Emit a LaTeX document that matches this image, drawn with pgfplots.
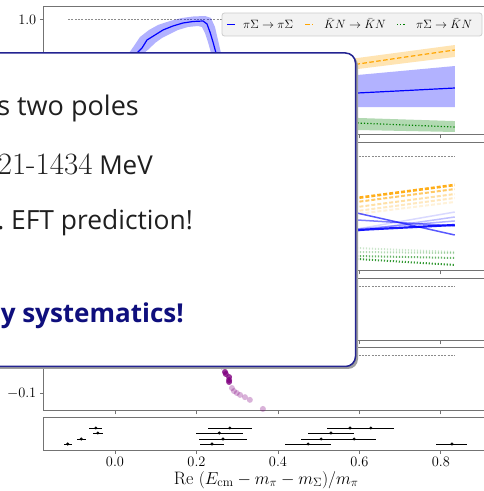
\documentclass[border=0pt]{standalone}
\usepackage{pgfplots}
\pgfplotsset{compat=1.18}
\usepackage{fontspec}
\setsansfont{Open Sans}
\definecolor{mplblue}{RGB}{0,0,255}
\definecolor{mplorange}{RGB}{255,165,0}
\definecolor{mplgreen}{RGB}{0,128,0}
\definecolor{mplpurple}{RGB}{128,0,128}
\definecolor{boxblue}{RGB}{35,35,145}
\definecolor{boxtext}{RGB}{15,15,125}
\pgfplotsset{
  panel/.style={
    scale only axis, width=445.7pt, anchor=south west,
    xmin=-0.176, xmax=0.918,
    axis line style={black!55, line width=1pt},
    tick style={black!55, line width=0.9pt},
    tick align=outside, major tick length=3.5pt,
    xtick pos=left, ytick pos=left,
    xtick={0,0.2,0.4,0.6,0.8},
    xticklabels={},
    ytick=\empty,
    ticklabel style={font=\fontsize{14.5}{16}\selectfont},
  },
  unitline/.style={black!45, line width=0.8pt, dash pattern=on 2pt off 1.3pt},
}
\begin{document}
\begin{tikzpicture}
\useasboundingbox (0pt,0pt) rectangle (484pt,491pt);
% ---------------- panel 1
\begin{axis}[panel, at={(43.3pt,356pt)}, height=128pt,
  ymin=-0.0452, ymax=1.1131, ytick={1.0}, yticklabels={$1.0$}]
\addplot[unitline] coordinates {(-0.115,1) (0.834,1)};
\addplot[draw=none, fill=mplblue, fill opacity=0.3] coordinates {
(0.0294,0.6154) (0.0344,0.6968) (0.0466,0.7602) (0.0613,0.8416) (0.0834,0.9050)
(0.1055,0.9502) (0.1350,0.9864) (0.1644,1.0136) (0.1914,1.0271) (0.2209,1.0317)
(0.2356,1.0136) (0.2454,0.9321) (0.2528,0.8145) (0.2601,0.6968) (0.2675,0.6154)
(0.2405,0.6154) (0.2356,0.6968) (0.2282,0.7964) (0.2209,0.8778) (0.2135,0.9321)
(0.2037,0.9412) (0.1791,0.9321) (0.1546,0.9050) (0.1350,0.8688) (0.1153,0.8326)
(0.0982,0.7873) (0.0834,0.7330) (0.0712,0.6968) (0.0638,0.6154)};
\addplot[draw=none, fill=mplblue, fill opacity=0.3] coordinates {
(0.454,0.452) (0.596,0.498) (0.714,0.538) (0.834,0.579)
(0.834,0.208) (0.714,0.208) (0.596,0.208) (0.454,0.208)};
\addplot[draw=none, fill=mplorange, fill opacity=0.3] coordinates {
(0.454,0.588) (0.596,0.652) (0.714,0.710) (0.834,0.769)
(0.834,0.661) (0.714,0.606) (0.596,0.552) (0.454,0.471)};
\addplot[draw=none, fill=mplgreen, fill opacity=0.3] coordinates {
(0.454,0.118) (0.596,0.109) (0.714,0.095) (0.834,0.081)
(0.834,-0.018) (0.714,-0.009) (0.596,0.000) (0.454,0.009)};
\addplot[mplblue, line width=1.2pt] coordinates {
(0.0466,0.6154) (0.0540,0.6968) (0.0663,0.7421) (0.0785,0.8145) (0.0982,0.8597)
(0.1178,0.9050) (0.1423,0.9412) (0.1669,0.9683) (0.1914,0.9819) (0.2160,0.9864)
(0.2258,0.9593) (0.2331,0.8869) (0.2405,0.7964) (0.2479,0.6968) (0.2528,0.6154)};
\addplot[mplblue, line width=1.2pt] coordinates {
(0.454,0.317) (0.596,0.335) (0.714,0.357) (0.834,0.380)};
\addplot[mplorange, line width=1.2pt, dash pattern=on 4.5pt off 2.5pt] coordinates {
(0.454,0.525) (0.596,0.597) (0.714,0.661) (0.834,0.724)};
\addplot[mplgreen, line width=1.2pt, dash pattern=on 1.2pt off 2pt] coordinates {
(0.454,0.081) (0.596,0.063) (0.714,0.045) (0.834,0.027)};
\end{axis}
% legend of panel 1
\draw[fill=black!5, draw=black!20, rounded corners=2.5pt, line width=0.8pt] (222pt,455pt) rectangle (482pt,478pt);
\draw[mplblue, line width=1.2pt] (227pt,466.5pt) -- (235pt,466.5pt);
\draw[mplorange, line width=1.2pt, dash pattern=on 4.5pt off 2.5pt] (305pt,466.5pt) -- (313pt,466.5pt);
\draw[mplgreen, line width=1.2pt, dash pattern=on 1.2pt off 2pt] (397pt,466.5pt) -- (405pt,466.5pt);
\node[anchor=base west, inner sep=0pt, font=\fontsize{12.5}{14}\selectfont] at (243pt,462.3pt) {$\pi\Sigma\to\pi\Sigma$};
\node[anchor=base west, inner sep=0pt, font=\fontsize{12.5}{14}\selectfont] at (324pt,462.3pt) {$\bar{K}N\to\bar{K}N$};
\node[anchor=base west, inner sep=0pt, font=\fontsize{12.5}{14}\selectfont] at (416pt,462.3pt) {$\pi\Sigma\to\bar{K}N$};
% ---------------- panel 2
\begin{axis}[panel, at={(43.3pt,220pt)}, height=128pt, ymin=-0.0407, ymax=1.1176]
\addplot[unitline] coordinates {(-0.115,1) (0.834,1)};
\addplot[mplorange, opacity=0.15, line width=2pt, dash pattern=on 4pt off 2pt] coordinates {(0.454,0.412) (0.594,0.475) (0.834,0.584)};
\addplot[mplorange, opacity=0.25, line width=2pt, dash pattern=on 4pt off 2pt] coordinates {(0.454,0.433) (0.594,0.502) (0.834,0.620)};
\addplot[mplorange, opacity=0.35, line width=2pt, dash pattern=on 4pt off 2pt] coordinates {(0.454,0.470) (0.594,0.538) (0.834,0.656)};
\addplot[mplorange, opacity=0.6, line width=2pt, dash pattern=on 4pt off 2pt] coordinates {(0.454,0.515) (0.594,0.584) (0.834,0.701)};
\addplot[mplorange, opacity=0.9, line width=2.6pt, dash pattern=on 4pt off 2pt] coordinates {(0.454,0.551) (0.594,0.620) (0.834,0.738)};
\addplot[mplblue, opacity=0.15, line width=1.5pt] coordinates {(0.454,0.250) (0.594,0.339) (0.834,0.493)};
\addplot[mplblue, opacity=0.25, line width=1.5pt] coordinates {(0.454,0.249) (0.594,0.321) (0.834,0.448)};
\addplot[mplblue, opacity=0.3, line width=1.5pt] coordinates {(0.454,0.297) (0.594,0.339) (0.834,0.412)};
\addplot[mplblue, opacity=0.5, line width=1.5pt] coordinates {(0.454,0.452) (0.594,0.421) (0.834,0.367)};
\addplot[mplblue, opacity=0.65, line width=1.5pt] coordinates {(0.454,0.600) (0.594,0.484) (0.834,0.285)};
\addplot[mplblue, opacity=0.9, line width=2.2pt] coordinates {(0.454,0.304) (0.594,0.330) (0.834,0.376)};
\addplot[mplgreen, opacity=0.2, line width=2pt, dash pattern=on 1.2pt off 1.8pt] coordinates {(0.454,0.188) (0.594,0.167) (0.834,0.131)};
\addplot[mplgreen, opacity=0.3, line width=2pt, dash pattern=on 1.2pt off 1.8pt] coordinates {(0.454,0.137) (0.594,0.131) (0.834,0.122)};
\addplot[mplgreen, opacity=0.6, line width=2pt, dash pattern=on 1.2pt off 1.8pt] coordinates {(0.454,0.106) (0.594,0.095) (0.834,0.077)};
\addplot[mplgreen, opacity=0.8, line width=2pt, dash pattern=on 1.2pt off 1.8pt] coordinates {(0.454,0.100) (0.594,0.068) (0.834,0.014)};
\end{axis}
% ---------------- panel 3
\begin{axis}[panel, at={(43.3pt,150pt)}, height=62pt, ymin=0, ymax=1.13]
\addplot[unitline] coordinates {(-0.115,1) (0.834,1)};
\end{axis}
% ---------------- panel 4
\begin{axis}[panel, at={(43.3pt,80pt)}, height=63pt, ymin=-0.1474, ymax=0.0184,
  ytick={-0.1}, yticklabels={$-0.1$}]
\addplot[unitline] coordinates {(-0.115,0) (0.834,0)};
\addplot[only marks, mark=*, mark size=3pt, mplpurple, opacity=0.3, draw opacity=0] coordinates {
(0.287,-0.087) (0.292,-0.095) (0.299,-0.100) (0.307,-0.105) (0.319,-0.111) (0.331,-0.118) (0.363,-0.142)};
\addplot[only marks, mark=*, mark size=3pt, mplpurple, opacity=0.8, draw opacity=0] coordinates {
(0.262,-0.030) (0.270,-0.0447) (0.272,-0.050) (0.280,-0.058) (0.280,-0.066) (0.280,-0.071)};
\end{axis}
% ---------------- panel 5
\begin{axis}[panel, at={(43.3pt,41pt)}, height=32pt, ymin=0, ymax=32,
  xticklabels={$0.0$,$0.2$,$0.4$,$0.6$,$0.8$},
  xlabel={$\mathrm{Re}\ (E_{\mathrm{cm}}-m_\pi-m_\Sigma)/m_\pi$},
  xlabel style={font=\fontsize{18}{20}\selectfont, at={(axis description cs:0.5,-0.9375)}, anchor=center}]
\addplot[black, only marks, mark=*, mark size=1.3pt,
  error bars/.cd, x dir=both, x explicit, error mark=none,
  error bar style={line width=0.9pt, black}]
  table[x=x, y=y, x error=ex] {
x      y   ex
-0.047 22  0.016
 0.282 22  0.054
 0.577 22  0.057
 0.628 22  0.057
-0.042 17  0.013
 0.256 17  0.057
 0.530 17  0.056
-0.083 11  0.011
 0.265 11  0.058
 0.506 11  0.050
 0.587 11  0.053
-0.116 6   0.010
 0.238 6   0.029
 0.474 6   0.056
 0.827 6   0.038
};
\end{axis}
% ---------------- overlay box
\begin{scope}
\clip (0pt,0pt) rectangle (484pt,491pt);
\fill[black!38, rounded corners=10pt] (-47.5pt,122pt) rectangle (358pt,435.5pt);
\draw[fill=white, draw=boxblue, line width=1.5pt, rounded corners=10pt] (-50pt,124.5pt) rectangle (355.5pt,438pt);
\node[anchor=base east, inner sep=0pt, font=\sffamily\fontsize{27}{30}\selectfont, text=black!88] at (139pt,375.5pt) {The $\Lambda(1405)$ has two poles};
\node[anchor=base east, inner sep=0pt, font=\sffamily\fontsize{26}{30}\selectfont, text=black!88] at (153pt,316pt) {Poles at {\rmfamily\fontsize{31}{32}\selectfont 1421-1434} MeV};
\node[anchor=base east, inner sep=0pt, font=\sffamily\fontsize{26.4}{30}\selectfont, text=black!88] at (193pt,261pt) {Agrees w.\ EFT prediction!};
\node[anchor=base east, inner sep=0pt, font=\sffamily\bfseries\fontsize{26}{30}\selectfont, text=boxtext] at (184pt,168pt) {Need to study systematics!};
\end{scope}
\end{tikzpicture}
\end{document}
